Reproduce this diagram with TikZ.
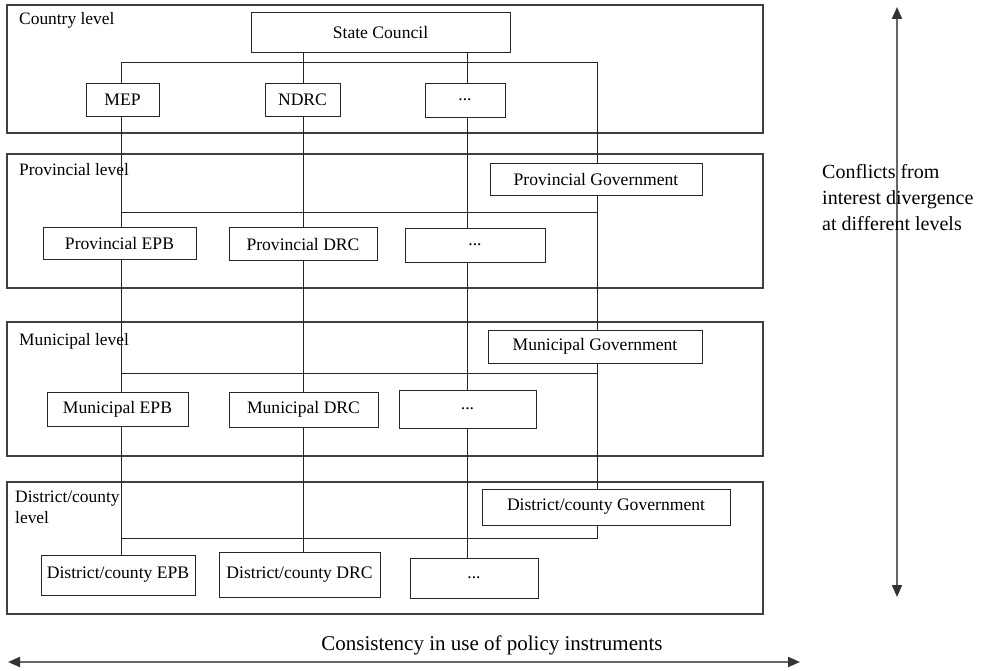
\documentclass[tikz,border=0pt]{standalone}
\usepackage{fontspec}
\setmainfont{Liberation Serif}
\usetikzlibrary{arrows.meta}
\begin{document}
\begin{tikzpicture}[x=1pt,y=-1pt,
  box/.style={draw=black!85, fill=white, line width=0.9pt, inner sep=0pt,
    font=\fontsize{17.6}{20}\selectfont},
  levelbox/.style={draw=black!75, line width=1.1pt, inner sep=0pt},
  levellabel/.style={anchor=base west, inner sep=0pt, align=left,
    font=\fontsize{17.4}{21}\selectfont},
  link/.style={draw=black!85, line width=0.8pt},
  bigarrow/.style={draw=black!60, line width=2pt,
    {Triangle[length=12pt,width=10pt,color=black!80]}-{Triangle[length=12pt,width=10pt,color=black!80]}}
]
\useasboundingbox (0,0) rectangle (985,671);

% level frames
\node[levelbox, minimum width=756, minimum height=128] (L1) at (385,69) {};
\node[levelbox, minimum width=756, minimum height=134] (L2) at (385,221) {};
\node[levelbox, minimum width=756, minimum height=134] (L3) at (385,389) {};
\node[levelbox, minimum width=756, minimum height=132] (L4) at (385,548) {};

% level labels
\node[levellabel] (t1) at (19,25) {Country level};
\node[levellabel] (t2) at (19,176) {Provincial level};
\node[levellabel] (t3) at (19,345) {Municipal level};
\node[levellabel] (t4) at (15,523) {District/county\\level};

% column and row reference coordinates
\coordinate (cA) at (121,0);
\coordinate (cB) at (303,0);
\coordinate (cC) at (467,0);
\coordinate (cD) at (597,0);
\coordinate (h1) at (0,62);
\coordinate (h2) at (0,212);
\coordinate (h3) at (0,373);
\coordinate (h4) at (0,538);

% country level
\node[box, minimum width=259, minimum height=40] (SC) at (380.5,32) {State Council};
\node[box, minimum width=73, minimum height=33] (MEP) at (122.5,99.5) {MEP};
\node[box, minimum width=75, minimum height=33] (NDRC) at (302.5,99.5) {NDRC};
\node[box, minimum width=80, minimum height=34] (D1) at (465,100) {...};

% provincial level
\node[box, minimum width=212, minimum height=32] (PG) at (596,179) {Provincial Government};
\node[box, minimum width=153, minimum height=32] (PEPB) at (119.5,243.5) {Provincial EPB};
\node[box, minimum width=148, minimum height=33] (PDRC) at (303,244) {Provincial DRC};
\node[box, minimum width=140, minimum height=34] (D2) at (475,245) {...};

% municipal level
\node[box, minimum width=214, minimum height=33] (MG) at (595,346.5) {Municipal Government};
\node[box, minimum width=141, minimum height=34] (MEPB) at (117.5,409) {Municipal EPB};
\node[box, minimum width=149, minimum height=35] (MDRC) at (303.5,409.5) {Municipal DRC};
\node[box, minimum width=137, minimum height=38] (D3) at (467.5,409) {...};

% district/county level
\node[box, minimum width=248, minimum height=36] (DG) at (606,507) {District/county Government};
\node[box, minimum width=154, minimum height=40] (DEPB) at (118,575) {District/county EPB};
\node[box, minimum width=161, minimum height=45] (DDRC) at (299.5,574.5) {District/county DRC};
\node[box, minimum width=128, minimum height=40] (D4) at (474,578) {...};

% connectors
\draw[link] (SC.south -| cB) -- (NDRC.north -| cB);
\draw[link] (SC.south -| cC) -- (D1.north -| cC);
\draw[link] (h1 -| cA) -- (h1 -| cD);
\draw[link] (h1 -| cA) -- (MEP.north -| cA);
\draw[link] (h1 -| cD) -- (PG.north -| cD);

\draw[link] (MEP.south -| cA) -- (PEPB.north -| cA);
\draw[link] (NDRC.south -| cB) -- (PDRC.north -| cB);
\draw[link] (D1.south -| cC) -- (D2.north -| cC);
\draw[link] (PG.south -| cD) -- (MG.north -| cD);
\draw[link] (h2 -| cA) -- (h2 -| cD);

\draw[link] (PEPB.south -| cA) -- (MEPB.north -| cA);
\draw[link] (PDRC.south -| cB) -- (MDRC.north -| cB);
\draw[link] (D2.south -| cC) -- (D3.north -| cC);
\draw[link] (MG.south -| cD) -- (DG.north -| cD);
\draw[link] (h3 -| cA) -- (h3 -| cD);

\draw[link] (MEPB.south -| cA) -- (DEPB.north -| cA);
\draw[link] (MDRC.south -| cB) -- (DDRC.north -| cB);
\draw[link] (D3.south -| cC) -- (D4.north -| cC);
\draw[link] (DG.south -| cD) -- (h4 -| cD) -- (h4 -| cA);

% side arrow and text
\coordinate (vTop) at (897,7);
\coordinate (vBot) at (897,597);
\draw[bigarrow] (vTop) -- (vBot);
\node[anchor=base west, inner sep=0pt, align=left,
  font=\fontsize{20}{26}\selectfont] (conf) at (822,230)
  {Conflicts from\\interest divergence\\at different levels};

% bottom arrow and text
\coordinate (hL) at (8,662);
\coordinate (hR) at (800,662);
\draw[bigarrow] (hL) -- (hR);
\node[anchor=base, inner sep=0pt, font=\fontsize{21}{24}\selectfont] (cons)
  at (492,650) {Consistency in use of policy instruments};
\end{tikzpicture}
\end{document}
